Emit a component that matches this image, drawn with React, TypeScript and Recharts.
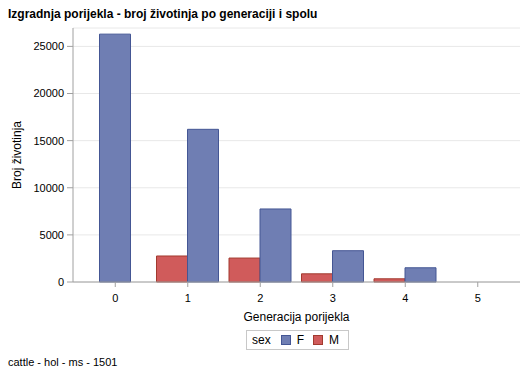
import { BarChart, Bar, XAxis, YAxis, CartesianGrid, Rectangle } from 'recharts'

const generations = ['0', '1', '2', '3', '4', '5']
const femaleCounts = [26300, 16200, 7750, 3320, 1510, 0]
const maleCounts: (number | null)[] = [null, 2760, 2540, 870, 340, 0]
const yTicks = [0, 5000, 10000, 15000, 20000, 25000]

const F_FILL = '#6F7EB3'
const F_LINE = '#445694'
const M_FILL = '#D05B5B'
const M_LINE = '#A23A2E'
const FRAME = '#A0A0A0'
const FONT = '"Liberation Sans", Arial, sans-serif'

const data = generations.map((g, i) => ({ gen: g, F: femaleCounts[i], M: maleCounts[i] }))

// SAS centers the female bar when the male slot is missing
function FemaleBar(props: any) {
  const { x, width, payload } = props
  const shift = payload.M == null ? -width / 2 : 0
  return <Rectangle {...props} x={x + shift} />
}

function YLabel(props: any) {
  const { viewBox } = props
  const cy = viewBox.y + viewBox.height / 2
  return (
    <text x={18} y={cy} transform={`rotate(-90 18 ${cy})`} textAnchor="middle" dominantBaseline="middle"
      fontSize={12} fontFamily={FONT} fill="#000">
      Broj životinja
    </text>
  )
}

export default function App() {
  return (
    <div style={{ position: 'absolute', left: 0, top: 0, width: 529, height: 377, background: '#fff', fontFamily: FONT }}>
      <div style={{ position: 'absolute', left: 8, top: 7, fontSize: 12, fontWeight: 'bold', color: '#000' }}>
        Izgradnja porijekla - broj životinja po generaciji i spolu
      </div>
      <BarChart width={529} height={377} data={data} barGap={0} barSize={31}
        margin={{ top: 28, right: 9, left: 0, bottom: 0 }}>
        <CartesianGrid horizontal vertical={false} stroke="#E8E8E8" />
        <XAxis dataKey="gen" height={95} padding={{ left: 6, right: 6 }} tickSize={5} tickMargin={7}
          axisLine={{ stroke: FRAME }} tickLine={{ stroke: FRAME }}
          tick={{ fontSize: 11, fill: '#000', fontFamily: FONT }}
          label={{ value: 'Generacija porijekla', position: 'insideTop', offset: 30, fontSize: 12, fill: '#000', fontFamily: FONT }} />
        <XAxis xAxisId="top" dataKey="gen" orientation="top" height={0} tick={false} tickLine={false}
          axisLine={{ stroke: FRAME }} />
        <YAxis width={73} domain={[0, 26950]} ticks={yTicks} tickSize={6} tickMargin={3}
          axisLine={{ stroke: FRAME }} tickLine={{ stroke: FRAME }}
          tick={{ fontSize: 11, fill: '#000', fontFamily: FONT }}
          label={<YLabel />} />
        <YAxis yAxisId="right" orientation="right" width={0} domain={[0, 26950]} tick={false} tickLine={false}
          axisLine={{ stroke: FRAME }} />
        <Bar dataKey="M" fill={M_FILL} stroke={M_LINE} strokeWidth={1} isAnimationActive={false} />
        <Bar dataKey="F" fill={F_FILL} stroke={F_LINE} strokeWidth={1} isAnimationActive={false} shape={<FemaleBar />} />
      </BarChart>
      <div style={{ position: 'absolute', left: 246, top: 330, width: 101, height: 18, border: '1px solid #C8C8C8',
        fontSize: 12, color: '#000', display: 'flex', alignItems: 'center' }}>
        <span style={{ marginLeft: 5, width: 37 }}>sex</span>
        {[['F', F_FILL, F_LINE], ['M', M_FILL, M_LINE]].map(([name, fill, line]) => (
          <span key={name} style={{ display: 'flex', alignItems: 'center', marginRight: 9 }}>
            <span style={{ width: 8, height: 8, background: fill, border: `1px solid ${line}`, marginRight: 6 }} />
            {name}
          </span>
        ))}
      </div>
      <div style={{ position: 'absolute', left: 8, top: 356, fontSize: 11, color: '#000' }}>
        cattle - hol - ms - 1501
      </div>
    </div>
  )
}
